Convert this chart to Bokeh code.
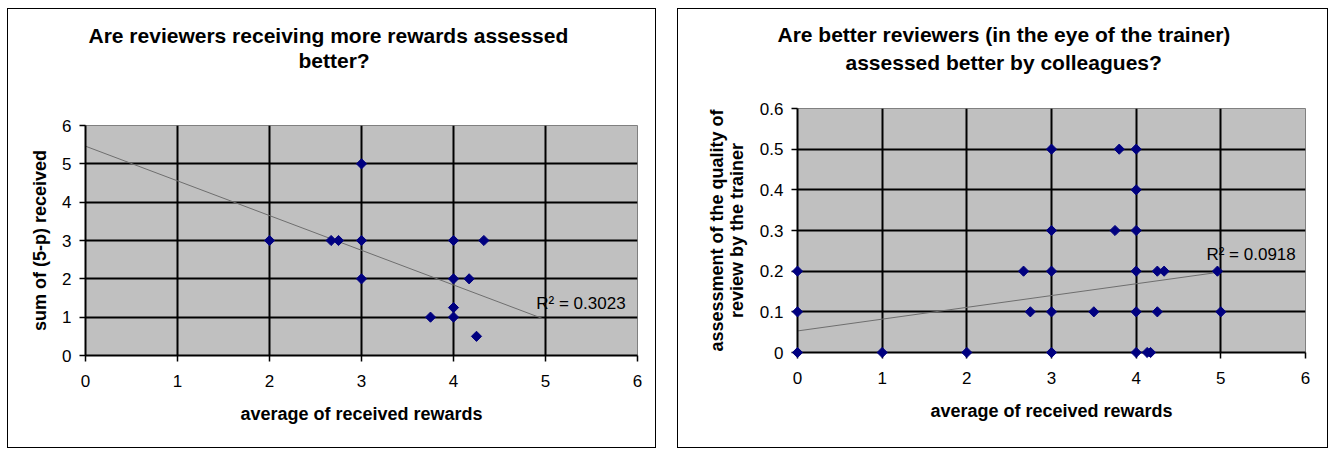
import math
from bokeh.plotting import figure
from bokeh.layouts import row
from bokeh.models import Range1d, FixedTicker, Label, Title
from bokeh.embed import file_html
from bokeh.resources import INLINE

# ---------------- data ----------------
left_title_lines = ["Are  reviewers receiving more rewards assessed", "better?"]
left_x_label = "average of received rewards"
left_y_label = "sum of (5-p) received"
left_x = [2, 2.67, 2.75, 3, 3, 3, 4, 4.33, 4, 4.17, 4, 4, 3.75, 4.25]
left_y = [3, 3, 3, 3, 5, 2, 3, 3, 2, 2, 1.25, 1, 1, 0.5]
left_trend_intercept = 5.46
left_trend_slope = -0.905
left_trend_xrange = [0, 4.97]
left_r2_text = "R\u00b2 = 0.3023"
left_x_ticks = [0, 1, 2, 3, 4, 5, 6]
left_y_ticks = [0, 1, 2, 3, 4, 5, 6]

right_title_lines = ["Are better reviewers (in the eye of the trainer)", "assessed better by colleagues?"]
right_x_label = "average of received rewards"
right_y_label = "assessment of the quality of\nreview by the trainer"
right_x = [0, 0, 0, 1, 2, 3, 3, 3, 3, 3, 2.67, 2.75, 3.5, 3.75, 3.8,
           4, 4, 4, 4, 4, 4, 4.25, 4.33, 4.25, 4.96, 5, 4.13, 4.17]
right_y = [0, 0.1, 0.2, 0, 0, 0, 0.1, 0.2, 0.3, 0.5, 0.2, 0.1, 0.1, 0.3, 0.5,
           0.5, 0.4, 0.3, 0.2, 0.1, 0, 0.2, 0.2, 0.1, 0.2, 0.1, 0, 0]
right_trend_intercept = 0.053
right_trend_slope = 0.029
right_trend_xrange = [0, 4.96]
right_r2_text = "R\u00b2 = 0.0918"
right_x_ticks = [0, 1, 2, 3, 4, 5, 6]
right_y_ticks = [0, 0.1, 0.2, 0.3, 0.4, 0.5, 0.6]
right_y_tick_labels = ["0", "0.1", "0.2", "0.3", "0.4", "0.5", "0.6"]

FONT = "Liberation Sans"


def title_obj(text, offset, standoff):
    return Title(text=text, align="left", offset=offset, standoff=standoff,
                 vertical_align="bottom", text_font=FONT,
                 text_font_style="bold", text_font_size="21px",
                 text_color="black")


def make_chart(width, height, margin, borders, x_end, y_end, x_ticks, y_ticks,
               grid_x, grid_y, xs, ys, t_int, t_slope, t_xr,
               title_lines, title_offsets, spacer_standoff, line2_standoff,
               xlab, ylab, ylab_standoff, ylab_line_height,
               r2_text, r2_pos, y_overrides=None):
    bl, br, bt, bb = borders
    p = figure(width=width, height=height, output_backend="svg",
               toolbar_location=None, title=None, x_range=Range1d(0, x_end),
               y_range=Range1d(0, y_end),
               min_border_left=bl, min_border_right=br,
               min_border_top=bt, min_border_bottom=bb)
    p.frame_align = False
    p.margin = margin
    p.styles = {"outline": "1.5px solid black", "outline-offset": "-1.5px"}
    p.background_fill_color = "#C0C0C0"
    p.border_fill_color = None
    p.outline_line_color = "#808080"
    p.outline_line_width = 1

    p.xaxis.ticker = FixedTicker(ticks=x_ticks)
    p.yaxis.ticker = FixedTicker(ticks=y_ticks)
    if y_overrides:
        p.yaxis.major_label_overrides = y_overrides
    p.xgrid.ticker = FixedTicker(ticks=grid_x)
    p.ygrid.ticker = FixedTicker(ticks=grid_y)
    for g in (p.xgrid, p.ygrid):
        g.grid_line_color = "black"
        g.grid_line_width = 2
        g.grid_line_alpha = 1

    for ax in (p.xaxis, p.yaxis):
        ax.axis_line_color = "black"
        ax.axis_line_width = 2
        ax.major_tick_line_color = "black"
        ax.major_tick_line_width = 1.5
        ax.major_tick_out = 6
        ax.major_tick_in = 0
        ax.minor_tick_line_color = None
        ax.major_label_text_font = FONT
        ax.major_label_text_font_size = "17px"
        ax.major_label_text_color = "black"
        ax.axis_label_text_font = FONT
        ax.axis_label_text_font_style = "bold"
        ax.axis_label_text_font_size = "18px"
        ax.axis_label_text_color = "black"
    p.xaxis.major_label_standoff = 13
    p.yaxis.major_label_standoff = 8
    p.xaxis.axis_label = xlab
    p.yaxis.axis_label = ylab
    p.xaxis.axis_label_standoff = 14
    p.yaxis.axis_label_standoff = ylab_standoff
    p.yaxis.axis_label_text_line_height = ylab_line_height

    tx = t_xr
    ty = [t_int + t_slope * v for v in tx]
    p.line(tx, ty, line_color="#6e6e6e", line_width=1)

    p.scatter(xs, ys, marker="square", angle=math.pi / 4, size=7.2,
              fill_color="#000080", line_color="#000080", level="overlay")

    p.add_layout(Label(x=r2_pos[0], y=r2_pos[1], text=r2_text,
                       text_font=FONT, text_font_size="17px",
                       text_color="black", text_baseline="alphabetic",
                       text_align="left"))

    # titles: spacer nearest the frame, then line 2, then line 1
    p.add_layout(title_obj("\u00a0", 0, spacer_standoff), "above")
    p.add_layout(title_obj(title_lines[1], title_offsets[1], line2_standoff), "above")
    p.add_layout(title_obj(title_lines[0], title_offsets[0], 0), "above")
    return p


p1 = make_chart(649, 440, (8, 0, 0, 7), (78, 19, 117, 93), 6, 6,
                left_x_ticks, left_y_ticks,
                [1, 2, 3, 4, 5], [1, 2, 3, 4, 5], left_x, left_y,
                left_trend_intercept, left_trend_slope, left_trend_xrange,
                left_title_lines, (3, 213), 29, 0,
                left_x_label, left_y_label, 9, 1.2,
                left_r2_text, (4.90, 1.36))

p2 = make_chart(651, 440, (8, 0, 0, 21), (120, 23, 100, 96), 6, 0.6,
                right_x_ticks, right_y_ticks,
                [1, 2, 3, 4, 5], [0.1, 0.2, 0.3, 0.4, 0.5], right_x, right_y,
                right_trend_intercept, right_trend_slope, right_trend_xrange,
                right_title_lines, (-20, 48), 7, 6,
                right_x_label, right_y_label, 10, 1.0,
                right_r2_text, (4.83, 0.24),
                y_overrides={t: s for t, s in zip(right_y_ticks, right_y_tick_labels)})

layout = row(p1, p2)
open("out.html", "w").write(file_html(layout, INLINE))
